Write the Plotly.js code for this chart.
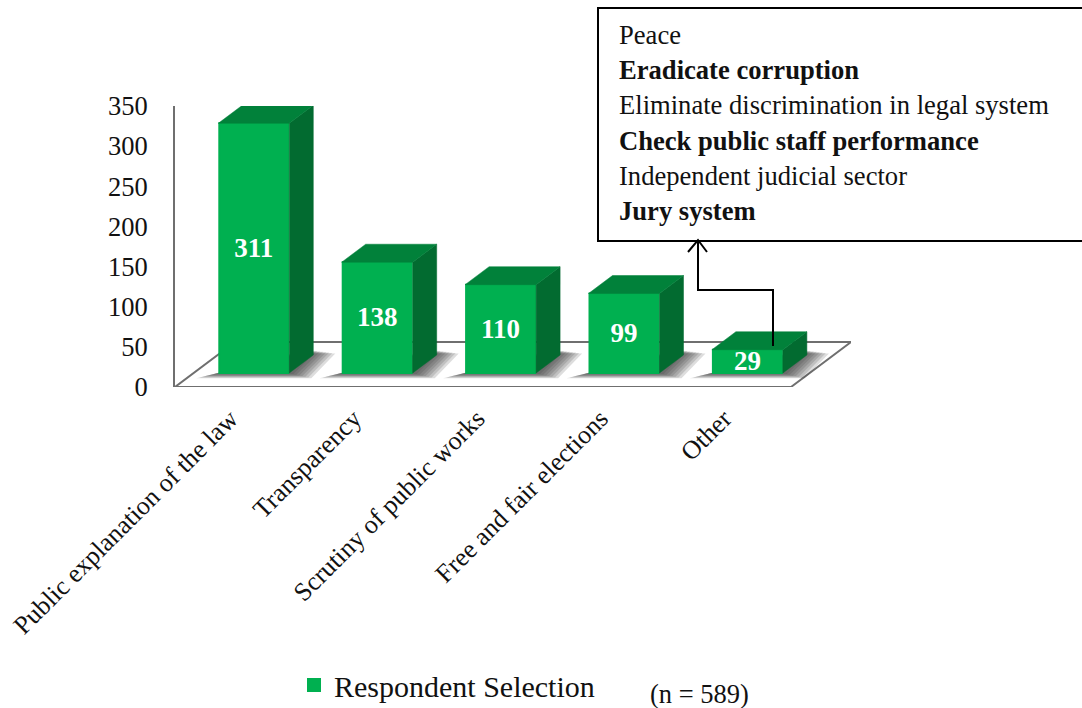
<!DOCTYPE html>
<html>
<head>
<meta charset="utf-8">
<script src="https://cdn.plot.ly/plotly-3.0.1.min.js"></script>
<style>html,body{margin:0;padding:0;background:#fff;overflow:hidden}#chart{width:1082px;height:708px}</style>
</head>
<body>
<div id="chart"></div>
<script>
const categories = ["Public explanation of the law", "Transparency", "Scrutiny of public works", "Free and fair elections", "Other"];
const values = [311, 138, 110, 99, 29];
const seriesName = "Respondent Selection";
const yTicks = [0, 50, 100, 150, 200, 250, 300, 350];
const otherLines = ["Peace", "<b>Eradicate corruption</b>", "Eliminate discrimination in legal system", "<b>Check public staff performance</b>", "Independent judicial sector", "<b>Jury system</b>"];
const sampleNote = "(n = 589)";

const W = 1082, H = 708;
const plotL = 175, plotR = 851, plotT = 106, plotB = 387;
const pxPerCat = 123.4, firstBarPx = 253.8, pxPerUnit = (plotB - plotT) / 350;
const FONT = '"Liberation Serif", serif';
const INK = '#111111', GRAY = '#6f6f6f';
const FRONT = '#00b050', TOP = '#01813a', SIDE = '#026b30';

const xOf = px => (px - firstBarPx) / pxPerCat;
const yOf = py => (plotB - py) / pxPerUnit;
const dx = 24 / pxPerCat, dy = 18 / pxPerUnit, halfW = 35.5 / pxPerCat, base = 14 / pxPerUnit;
const idx = categories.map((_, i) => i);
const paperX = px => (px - plotL) / (plotR - plotL);
const paperY = py => (plotB - py) / (plotB - plotT);
const tickShift = -0.19;
const labelNudge = 2 / pxPerUnit;

const poly = pts => 'M' + pts.map(p => p[0] + ',' + p[1]).join('L') + 'Z';
const polyPx = pts => poly(pts.map(p => [xOf(p[0]), yOf(p[1])]));

const traces = [];
traces.push({
  type: 'bar', name: seriesName, x: idx, y: values, base: values.map(() => base),
  width: 69 / pxPerCat, marker: {color: FRONT, line: {color: FRONT, width: 2}},
  showlegend: true, hoverinfo: 'skip'
});
values.forEach((v, i) => {
  const L = i - halfW, R = i + halfW, T = base + v;
  traces.push({type: 'scatter', mode: 'lines', showlegend: false, hoverinfo: 'skip', fill: 'toself',
    x: [R, R + dx, R + dx, R, R], y: [base, base + dy, T + dy, T, base],
    fillcolor: SIDE, line: {color: SIDE, width: 0.5}});
  traces.push({type: 'scatter', mode: 'lines', showlegend: false, hoverinfo: 'skip', fill: 'toself',
    x: [L, L + dx, R + dx, R, L], y: [T, T + dy, T + dy, T, T],
    fillcolor: TOP, line: {color: TOP, width: 0.5}});
});
traces.push({
  type: 'scatter', mode: 'text', showlegend: false, hoverinfo: 'skip',
  x: idx, y: values.map(v => base + v / 2 - labelNudge), text: values.map(String), textposition: 'middle center',
  textfont: {family: FONT, size: 27, color: '#fff', weight: 700}
});

const shapes = [];
// floor
shapes.push({type: 'path', layer: 'below', xref: 'x', yref: 'y', fillcolor: '#fff',
  path: polyPx([[175, 387], [791, 387], [851, 342], [235, 342]]), line: {color: GRAY, width: 2}});
// soft shadows beside every bar
idx.forEach(i => {
  const L = firstBarPx + i * pxPerCat - 35.5, R = L + 71, RD = R + 24;
  for (let k = 6; k >= 0; k--) {
    shapes.push({type: 'path', layer: 'below', xref: 'x', yref: 'y', fillcolor: '#333', opacity: 0.17,
      line: {width: 0},
      path: polyPx([[L - 4 - 3 * k, 374 + 0.7 * k], [R + 4 + 3 * k, 374 + 0.7 * k], [RD + 4 + 3 * k, 351 + 0.4 * k], [RD - 12, 351 + 0.4 * k]])});
  }
});
// callout box and connector
const pl = (a, b) => paperX(a) + ',' + paperY(b);
shapes.push({type: 'rect', xref: 'paper', yref: 'paper', layer: 'above', fillcolor: '#fff',
  x0: paperX(598), x1: paperX(1090), y0: paperY(241), y1: paperY(8), line: {color: '#000', width: 2}});
shapes.push({type: 'path', xref: 'paper', yref: 'paper', layer: 'above',
  path: 'M' + pl(773, 346) + 'L' + pl(773, 290) + 'L' + pl(698, 290) + 'L' + pl(698, 242),
  line: {color: '#000', width: 2}});
shapes.push({type: 'path', xref: 'paper', yref: 'paper', layer: 'above',
  path: 'M' + pl(688, 252) + 'L' + pl(698, 240) + 'L' + pl(707, 252),
  line: {color: '#000', width: 2}});

const annotations = otherLines.map((t, i) => ({
  text: t, xref: 'paper', yref: 'paper', x: paperX(617), y: paperY(35 + i * 35.2),
  xanchor: 'left', yanchor: 'middle', showarrow: false, align: 'left',
  font: {family: FONT, size: 26.6, color: INK}
}));
annotations.push({text: sampleNote, xref: 'paper', yref: 'paper', x: paperX(648), y: paperY(694),
  xanchor: 'left', yanchor: 'middle', showarrow: false, font: {family: FONT, size: 26.5, color: INK}});

const layout = {
  width: W, height: H, paper_bgcolor: '#fff', plot_bgcolor: 'rgba(0,0,0,0)',
  margin: {l: plotL, r: W - plotR, t: plotT, b: H - plotB, autoexpand: false, pad: 0},
  barmode: 'overlay', font: {family: FONT, color: INK},
  xaxis: {type: 'linear', range: [xOf(plotL), xOf(plotR)], showgrid: false, zeroline: false, showline: false,
    tickmode: 'array', tickvals: idx.map(i => i + tickShift), ticktext: categories, tickangle: -45,
    ticks: 'outside', ticklen: 5, tickcolor: 'rgba(0,0,0,0)', tickfont: {family: FONT, size: 26, color: INK}},
  yaxis: {range: [0, 350], showgrid: false, zeroline: false, showline: true, linecolor: GRAY, linewidth: 2,
    tickmode: 'array', tickvals: yTicks, ticks: 'outside', ticklen: 20, tickcolor: 'rgba(0,0,0,0)',
    tickfont: {family: FONT, size: 26.5, color: INK}},
  legend: {x: paperX(294), y: paperY(685), xanchor: 'left', yanchor: 'middle', bgcolor: 'rgba(0,0,0,0)',
    font: {family: FONT, size: 30, color: INK}, itemclick: false, itemdoubleclick: false},
  showlegend: true, shapes: shapes, annotations: annotations
};
Plotly.newPlot('chart', traces, layout, {displayModeBar: false, staticPlot: true});
</script>
</body>
</html>
